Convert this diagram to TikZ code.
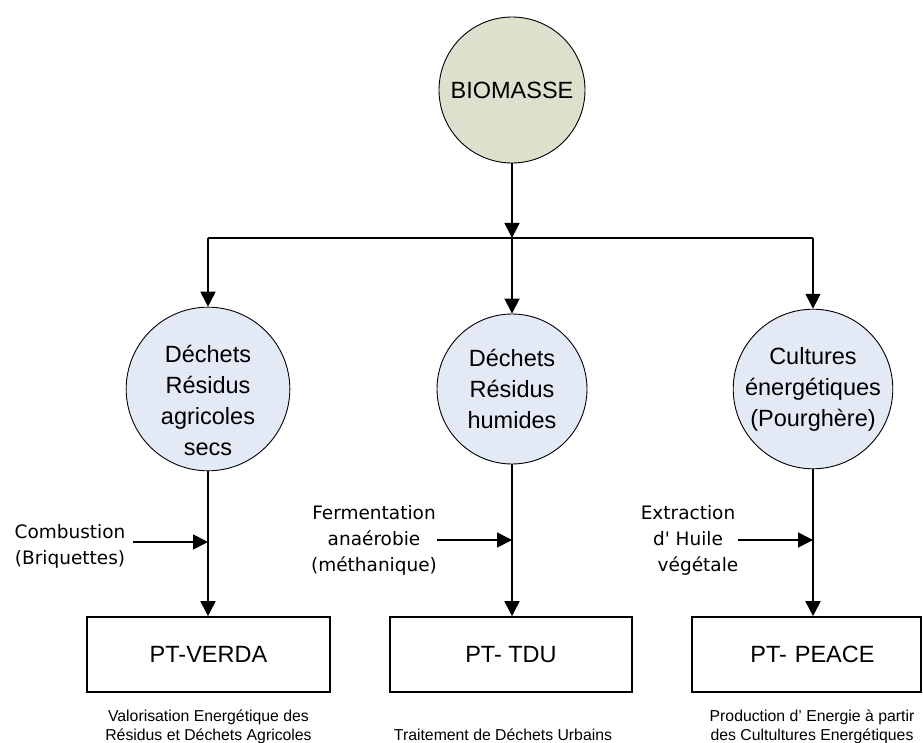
\documentclass[tikz,border=0pt]{standalone}
\usepackage{fontspec}
\setmainfont{Liberation Sans}
\newfontfamily\comicfont{DejaVu Sans}
\usetikzlibrary{arrows.meta}
\definecolor{bioFill}{HTML}{DDE0CC}
\definecolor{blueFill}{HTML}{E3EAF6}
\begin{document}
\begin{tikzpicture}[x=1pt,y=-1pt,
  bigcirc/.style={circle,draw=black,line width=0.9pt,minimum size=150pt,inner sep=0pt,align=center,font=\fontsize{23.5}{31}\selectfont},
  ptbox/.style={draw=black,line width=1.6pt,inner sep=0pt,font=\fontsize{23.5}{28}\selectfont},
  arr/.style={line width=1.7pt,-{Triangle[length=15pt,width=15pt]}},
  plain/.style={line width=1.7pt},
  sidetxt/.style={align=center,inner sep=0pt,font=\comicfont\fontsize{18.5}{26}\selectfont},
  captxt/.style={align=center,inner sep=0pt,font=\fontsize{15.8}{19}\selectfont}]
\useasboundingbox[fill=white] (0,0) rectangle (923,743);

% top node
\node[bigcirc,fill=bioFill,minimum size=146pt] (bio) at (512,90) {BIOMASSE};
\coordinate (jc) at (512,238);
\coordinate (jl) at (208,238);
\coordinate (jr) at (813,238);

% level-2 circles
\node[bigcirc,fill=blueFill] (c1) at (208,389) {\rule{0pt}{41pt}Déchets\\Résidus\\agricoles\\secs};
\node[bigcirc,fill=blueFill] (c2) at (512,389) {Déchets\\Résidus\\humides};
\node[bigcirc,fill=blueFill] (c3) at (813,389) {Cultures\\énergétiques\\(Pourghère)};

% boxes
\node[ptbox,minimum width=243pt,minimum height=75pt] (b1) at (208.5,654.5) {PT-VERDA};
\node[ptbox,minimum width=242pt,minimum height=75pt] (b2) at (511,654.5) {PT- TDU};
\node[ptbox,minimum width=229pt,minimum height=75pt,text width=229pt,align=center] (b3) at (806.5,654.5) {\hspace*{12pt}PT- PEACE};

% connectors top
\draw[arr] (bio.south) -- (jc);
\draw[plain] (jl) -- (jr);
\draw[arr] (jl) -- (c1.north);
\draw[arr] (jc) -- (c2.north);
\draw[arr] (jr) -- (c3.north);

% connectors to boxes
\draw[arr] (c1.south) -- (c1.south |- b1.north);
\draw[arr] (c2.south) -- (c2.south |- b2.north);
\draw[arr] (c3.south) -- (c3.south |- b3.north);

% side processes
\node[sidetxt] (s1) at (70,546) {Combustion\\(Briquettes)};
\coordinate (s1a) at (133,542);
\coordinate (s1b) at (208,542);
\draw[arr] (s1a) -- (s1b);

\node[sidetxt] (s2) at (374,540) {Fermentation\\anaérobie\\(méthanique)};
\coordinate (s2a) at (437,540);
\coordinate (s2b) at (512,540);
\draw[arr] (s2a) -- (s2b);

\node[sidetxt] (s3) at (688,540) {Extraction\\d' Huile\hspace*{16pt}\\\hspace*{20pt}végétale};
\coordinate (s3a) at (738,540);
\coordinate (s3b) at (813,540);
\draw[arr] (s3a) -- (s3b);

% captions
\node[captxt] (l1) at (208.5,727) {Valorisation Energétique des\\Résidus et Déchets Agricoles};
\node[captxt] (l2) at (503,735) {Traitement de Déchets Urbains};
\node[captxt] (l3) at (812,727) {Production d' Energie à partir\\des Cultultures Energétiques};
\end{tikzpicture}
\end{document}
